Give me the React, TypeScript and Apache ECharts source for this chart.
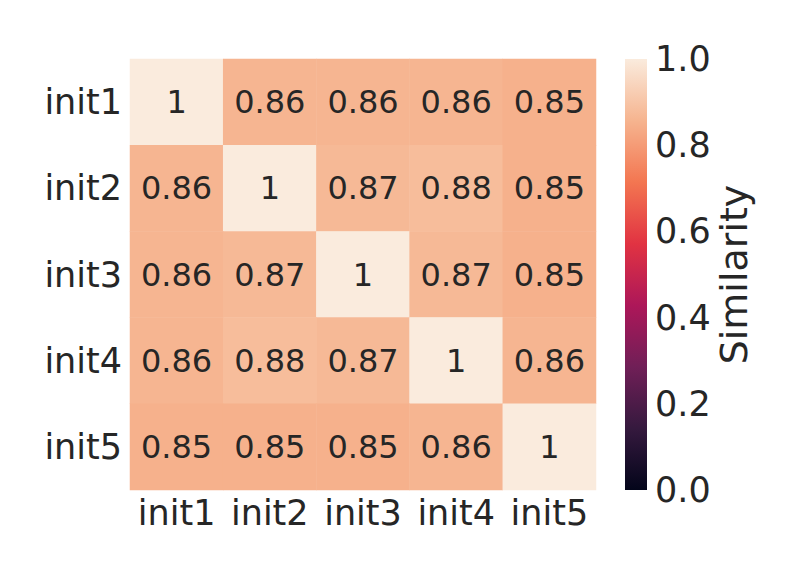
import React, { useEffect, useRef } from "react";
import * as echarts from "echarts";

const labels = ["init1", "init2", "init3", "init4", "init5"];
const matrix: number[][] = [
  [1, 0.86, 0.86, 0.86, 0.85],
  [0.86, 1, 0.87, 0.88, 0.85],
  [0.86, 0.87, 1, 0.87, 0.85],
  [0.86, 0.88, 0.87, 1, 0.86],
  [0.85, 0.85, 0.85, 0.86, 1],
];
const colorbarTicks = [0, 0.2, 0.4, 0.6, 0.8, 1.0];
const rocket = ["#03051a", "#35193e", "#701f57", "#ad1759", "#e13342", "#f37651", "#f6b48f", "#faebdd"];

const FONT = "DejaVu Sans";
const TXT = "#262626";

export default function App() {
  const ref = useRef<HTMLDivElement>(null);
  useEffect(() => {
    if (!ref.current) return;
    const chart = echarts.init(ref.current, undefined, { renderer: "svg" });
    const data: [number, number, number][] = [];
    matrix.forEach((row, r) => row.forEach((v, c) => data.push([c, r, v])));
    const stops = rocket
      .map((col, i) => ({ offset: 1 - i / (rocket.length - 1), color: col }))
      .reverse();
    chart.setOption({
      animation: false,
      backgroundColor: "#ffffff",
      textStyle: { fontFamily: FONT },
      grid: [
        { left: 130, top: 59, width: 466, height: 431 },
        { left: 625, top: 59, width: 22, height: 431 },
      ],
      xAxis: [
        {
          type: "category",
          gridIndex: 0,
          data: labels,
          axisLine: { show: false },
          axisTick: { show: false },
          splitLine: { show: false },
          axisLabel: { fontSize: 35, color: TXT, fontFamily: FONT, margin: 5, interval: 0 },
        },
        {
          type: "category",
          gridIndex: 1,
          data: ["cb"],
          show: false,
        },
      ],
      yAxis: [
        {
          type: "category",
          gridIndex: 0,
          data: labels,
          inverse: true,
          axisLine: { show: false },
          axisTick: { show: false },
          splitLine: { show: false },
          axisLabel: { fontSize: 35, color: TXT, fontFamily: FONT, margin: 8, interval: 0 },
        },
        {
          type: "value",
          gridIndex: 1,
          position: "right",
          min: colorbarTicks[0],
          max: colorbarTicks[colorbarTicks.length - 1],
          interval: 0.2,
          axisLine: { show: false },
          axisTick: { show: false },
          splitLine: { show: false },
          axisLabel: {
            fontSize: 35,
            color: TXT,
            fontFamily: FONT,
            margin: 8,
            padding: [4, 0, 0, 0],
            formatter: (v: number) => v.toFixed(1),
          },
          name: "Similarity",
          nameLocation: "middle",
          nameRotate: 90,
          nameGap: 58,
          nameTextStyle: { fontSize: 38, color: TXT, fontFamily: FONT },
        },
      ],
      visualMap: {
        show: false,
        min: 0,
        max: 1,
        seriesIndex: 0,
        inRange: { color: rocket },
      },
      series: [
        {
          type: "heatmap",
          xAxisIndex: 0,
          yAxisIndex: 0,
          data,
          label: {
            show: true,
            fontSize: 32,
            color: TXT,
            fontFamily: FONT,
            padding: [0, 0, 4, 0],
            formatter: (p: any) => String(Number(p.value[2].toPrecision(2))),
          },
          itemStyle: { borderWidth: 0 },
        },
        {
          type: "bar",
          xAxisIndex: 1,
          yAxisIndex: 1,
          data: [colorbarTicks[colorbarTicks.length - 1]],
          barWidth: "100%",
          itemStyle: {
            color: new echarts.graphic.LinearGradient(0, 0, 0, 1, stops),
          },
        },
      ],
    });
    return () => chart.dispose();
  }, []);
  return <div ref={ref} style={{ width: 792, height: 576, position: "fixed", left: 0, top: 0 }} />;
}
